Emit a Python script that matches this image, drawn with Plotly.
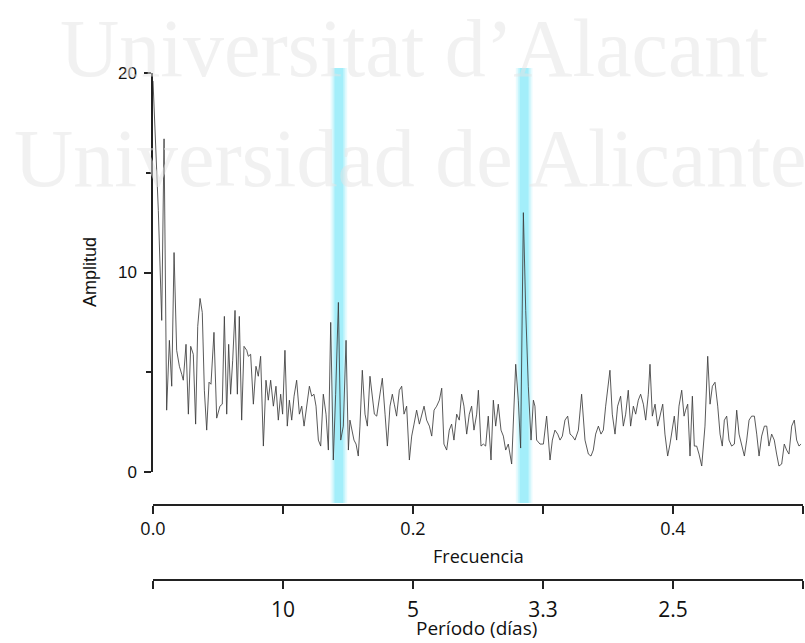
import plotly.graph_objects as go

# ---- data ----
freq = [0.0, 0.0041, 0.0067, 0.0085, 0.0105, 0.0126, 0.0144, 0.0162, 0.0182, 0.0203,
        0.0221, 0.0233, 0.0254, 0.0272, 0.0290, 0.0310, 0.0328, 0.0344, 0.0362, 0.0379,
        0.0395, 0.0413, 0.0431, 0.0446, 0.0469, 0.0490, 0.0515, 0.0533, 0.0549, 0.0567,
        0.0582, 0.0597, 0.0613, 0.0631, 0.0649, 0.0664, 0.0682, 0.0700, 0.0721, 0.0733,
        0.0751, 0.0772, 0.0792, 0.0810, 0.0828, 0.0849, 0.0869, 0.0887, 0.0905, 0.0926,
        0.0946, 0.0964, 0.0982, 0.0997, 0.1015, 0.1033, 0.1049, 0.1067, 0.1085, 0.1105,
        0.1126, 0.1144, 0.1162, 0.1182, 0.1203, 0.1221, 0.1238, 0.1254, 0.1272, 0.1290,
        0.1310, 0.1331, 0.1349, 0.1367, 0.1387, 0.1405, 0.1426, 0.1444, 0.1464, 0.1485,
        0.1503, 0.1515, 0.1528, 0.1546, 0.1562, 0.1579, 0.1592, 0.1610, 0.1631, 0.1649,
        0.1669, 0.1687, 0.1703, 0.1721, 0.1741, 0.1764, 0.1785, 0.1803, 0.1823, 0.1841,
        0.1856, 0.1874, 0.1895, 0.1913, 0.1931, 0.1951, 0.1972, 0.1990, 0.2008, 0.2028,
        0.2049, 0.2067, 0.2085, 0.2105, 0.2126, 0.2144, 0.2162, 0.2182, 0.2203, 0.2221,
        0.2238, 0.2259, 0.2279, 0.2297, 0.2315, 0.2336, 0.2356, 0.2374, 0.2392, 0.2413,
        0.2433, 0.2451, 0.2469, 0.2490,
        0.2503, 0.2523, 0.2541, 0.2559, 0.2579, 0.2600, 0.2618, 0.2636, 0.2656, 0.2677,
        0.2695, 0.2713, 0.2733, 0.2746, 0.2759, 0.2790, 0.2810, 0.2828, 0.2849, 0.2867,
        0.2887, 0.2908, 0.2926, 0.2938, 0.2951, 0.2977, 0.3003, 0.3028, 0.3054, 0.3072,
        0.3092, 0.3113, 0.3131, 0.3149, 0.3169, 0.3190, 0.3208, 0.3226, 0.3246, 0.3272,
        0.3297, 0.3323, 0.3349, 0.3369, 0.3387, 0.3405, 0.3426, 0.3446, 0.3464, 0.3482,
        0.3503, 0.3515, 0.3533, 0.3554, 0.3574, 0.3597, 0.3618, 0.3636, 0.3656, 0.3674,
        0.3695, 0.3713, 0.3733, 0.3751, 0.3772, 0.3790, 0.3810, 0.3823, 0.3841, 0.3862,
        0.3882, 0.3903, 0.3921, 0.3938, 0.3959, 0.3977, 0.3995, 0.4010, 0.4028, 0.4046,
        0.4067, 0.4085, 0.4097, 0.4113, 0.4131, 0.4149, 0.4164, 0.4182, 0.4200, 0.4221,
        0.4246, 0.4267, 0.4285, 0.4303, 0.4323, 0.4344, 0.4362, 0.4379, 0.4395, 0.4413,
        0.4431, 0.4451, 0.4472, 0.4490, 0.4508, 0.4528, 0.4549, 0.4567, 0.4585, 0.4605,
        0.4626, 0.4644, 0.4662, 0.4682, 0.4703, 0.4721, 0.4738, 0.4759, 0.4779, 0.4797,
        0.4815, 0.4836, 0.4856, 0.4874, 0.4892, 0.4913, 0.4933, 0.4951, 0.4969, 0.4985]

amp = [19.6, 13.1, 7.6, 16.7, 3.1, 6.6, 4.3, 11.0, 6.1, 5.3,
       4.9, 4.6, 6.4, 2.9, 6.3, 5.9, 2.4, 7.3, 8.7, 8.0,
       4.1, 2.1, 4.5, 4.4, 7.0, 2.7, 3.3, 3.4, 7.8, 2.9,
       6.4, 3.9, 5.6, 8.1, 3.9, 7.8, 2.6, 6.3, 6.1, 5.8,
       5.9, 3.4, 5.3, 4.8, 5.8, 1.3, 4.6, 3.6, 4.6, 3.3,
       4.3, 2.6, 3.9, 2.9, 6.1, 2.3, 3.6, 2.6, 3.8, 4.6,
       2.9, 3.3, 2.3, 3.4, 4.3, 3.8, 3.9, 3.3, 1.6, 1.3,
       3.9, 2.9, 1.1, 7.5, 0.6, 3.9, 8.5, 1.6, 2.3, 6.6,
       1.1, 2.6, 2.1, 1.6, 1.4, 0.8, 2.3, 5.1, 2.9, 2.3,
       4.8, 3.9, 2.9, 2.8, 3.8, 4.7, 2.9, 1.3, 3.3, 3.9,
       3.4, 2.8, 4.1, 4.3, 2.9, 3.3, 0.6, 1.8, 2.4, 3.1,
       2.4, 2.8, 3.3, 2.6, 2.3, 1.8, 3.1, 3.3, 3.6, 4.2,
       1.4, 1.1, 2.1, 2.4, 1.6, 2.9, 2.6, 3.9, 3.3, 1.9,
       2.9, 3.3, 2.1, 2.9,
       4.1, 1.3, 1.4, 1.3, 2.8, 0.6, 3.6, 2.3, 3.4, 2.1,
       1.8, 1.1, 1.4, 0.9, 0.4, 5.4, 3.6, 1.2, 13.0, 8.1,
       4.3, 1.6, 3.6, 3.3, 1.6, 1.4, 1.4, 2.8, 0.6, 1.6,
       2.1, 1.9, 1.6, 1.8, 2.6, 2.8, 1.9, 1.8, 1.6, 2.1,
       3.9, 1.6, 0.9, 0.8, 1.1, 1.9, 2.3, 1.9, 2.1, 3.3,
       4.3, 5.1, 2.9, 1.9, 3.3, 3.8, 2.3, 2.9, 4.1, 2.3,
       3.3, 2.9, 3.6, 3.9, 3.4, 2.6, 3.9, 5.4, 2.8, 3.4,
       2.3, 2.9, 3.4, 1.9, 0.8, 1.4, 2.3, 2.8, 1.6, 3.3,
       4.1, 2.8, 3.1, 3.4, 0.8, 3.8, 1.3, 1.3, 0.9, 0.3,
       2.3, 5.8, 3.4, 4.3, 4.5, 3.3, 1.9, 1.3, 2.6, 2.8,
       1.6, 1.3, 1.4, 3.1, 1.9, 1.3, 0.8, 1.6, 2.6, 2.8,
       2.8, 1.9, 0.8, 1.8, 2.3, 2.3, 1.3, 1.9, 1.6, 0.9,
       0.3, 0.4, 1.4, 1.1, 0.9, 2.3, 2.6, 1.6, 1.3, 1.4]

freq_ticks = [0.0, 0.1, 0.2, 0.3, 0.4, 0.5]
freq_labels = ["0.0", "", "0.2", "", "0.4", ""]
period_labels = ["", "10", "5", "3.3", "2.5", ""]
amp_ticks = [0, 10, 20]
amp_minor = [5, 15]
band_freqs = [0.143, 0.2855]

W, H = 805, 643
L, R, T, B = 153, 2, 73, 63          # plot area: x 153..803, y 73..580
ph = H - T - B                        # 507


def py(px):  # pixel row -> paper y
    return (H - B - px) / ph


def pxx(px):  # pixel col -> paper x
    return (px - L) / (W - L - R)


fig = go.Figure()
fig.add_trace(go.Scatter(x=freq, y=amp, mode="lines",
                         line=dict(color="#3c3c3c", width=0.85),
                         showlegend=False, hoverinfo="skip"))
fig.add_trace(go.Scatter(x=[0.0, 0.5], y=[None, None], xaxis="x2", yaxis="y",
                         mode="lines", showlegend=False, hoverinfo="skip"))

# soft cyan highlight bands
for bf in band_freqs:
    for hw, op in [(0.0064, 0.18), (0.0049, 0.3), (0.0034, 0.5)]:
        fig.add_shape(type="rect", xref="x", yref="paper",
                      x0=bf - hw, x1=bf + hw, y0=py(503), y1=py(68),
                      fillcolor="rgb(125,232,248)", opacity=op,
                      line=dict(width=0), layer="below")

axis_common = dict(showline=True, linecolor="#222", linewidth=1.5,
                   ticks="outside", tickcolor="#222", tickwidth=1.5,
                   showgrid=False, zeroline=False, range=[0, 0.5],
                   tickvals=freq_ticks)

fig.update_layout(
    width=W, height=H,
    margin=dict(l=L, r=R, t=T, b=B),
    paper_bgcolor="white", plot_bgcolor="rgba(0,0,0,0)",
    xaxis=dict(**axis_common, domain=[0, 1], anchor="free", position=py(505),
               ticktext=freq_labels, ticklen=8,
               tickfont=dict(family="Open Sans", size=18, color="#111")),
    xaxis2=dict(**axis_common, overlaying="x", anchor="free", position=0,
                side="bottom", ticktext=period_labels, ticklen=8,
                ticklabelstandoff=3,
                tickfont=dict(family="Open Sans", size=21, color="#111")),
    yaxis=dict(domain=[py(472), 1], range=[0, 20], anchor="x",
               showline=True, linecolor="#222", linewidth=1.5,
               ticks="outside", ticklen=7, tickwidth=1.5, tickcolor="#222",
               tickvals=amp_ticks, showgrid=False, zeroline=False,
               ticklabelstandoff=4,
               minor=dict(tickvals=amp_minor, ticks="outside", ticklen=5,
                          tickwidth=1.5, tickcolor="#222"),
               tickfont=dict(family="Liberation Sans", size=17, color="#111")),
)

wm_color = "rgba(228,228,228,0.5)"
ann = [
    dict(text="Amplitud", x=pxx(90), y=py(272), textangle=-90,
         font=dict(family="Liberation Sans", size=18, color="#111")),
    dict(text="Frecuencia", x=pxx(478), y=py(556),
         font=dict(family="Open Sans", size=18, color="#111")),
    dict(text="Período (días)", x=pxx(476), y=py(628),
         font=dict(family="Open Sans", size=19, color="#111")),
    dict(text="Universitat d’Alacant", x=pxx(58), y=py(49), xanchor="left",
         font=dict(family="Liberation Serif", size=82, color=wm_color)),
    dict(text="Universidad de Alicante", x=pxx(12), y=py(158), xanchor="left",
         font=dict(family="Liberation Serif", size=82, color=wm_color)),
]
for a in ann:
    a.setdefault("xanchor", "center")
    fig.add_annotation(xref="paper", yref="paper", showarrow=False, yanchor="middle", **a)

fig.write_html("out.html", config={"displayModeBar": False})
